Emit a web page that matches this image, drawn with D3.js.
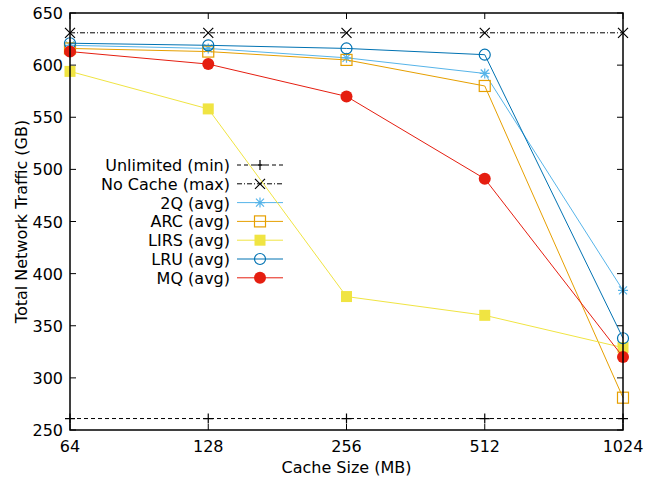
<!DOCTYPE html>
<html>
<head>
<meta charset="utf-8">
<script src="https://cdn.jsdelivr.net/npm/d3@7"></script>
<style>
  body { margin: 0; background: #fff; }
  svg { font-family: "DejaVu Sans", sans-serif; }
</style>
</head>
<body>
<div id="container"></div>
<script>
const { d3 } = window;

const cacheSizes = [64, 128, 256, 512, 1024];
const yTicks = [250, 300, 350, 400, 450, 500, 550, 600, 650];

const unlimited = [261, 261, 261, 261, 261];
const noCache = [631, 631, 631, 631, 631];
const q2 = [619, 616, 607, 592, 384];
const arc = [616, 613, 605, 580, 281];
const lirs = [594, 558, 378, 360, 329];
const lru = [621, 619, 616, 610, 338];
const mq = [613, 601, 570, 491, 320];

const SERIES = [
  { name: 'Unlimited (min)', values: unlimited, color: '#000', dash: '4,3', width: 1, marker: 'plus' },
  { name: 'No Cache (max)', values: noCache, color: '#000', dash: '5,2,1,2', width: 1, marker: 'cross' },
  { name: '2Q (avg)', values: q2, color: '#56b4e9', dash: null, width: 1, marker: 'star' },
  { name: 'ARC (avg)', values: arc, color: '#e69f00', dash: null, width: 1, marker: 'square' },
  { name: 'LIRS (avg)', values: lirs, color: '#f0e442', dash: null, width: 1, marker: 'squareFill' },
  { name: 'LRU (avg)', values: lru, color: '#0072b2', dash: null, width: 1, marker: 'circle' },
  { name: 'MQ (avg)', values: mq, color: '#e51e10', dash: null, width: 1, marker: 'circleFill' }
];

const W = 659;
const H = 478;
const plotL = 70;
const plotR = 623;
const plotT = 13;
const plotB = 430;
const FS = 16;

const x = d3.scaleLog().base(2).domain([64, 1024]).range([plotL, plotR]);
const y = d3.scaleLinear().domain([250, 650]).range([plotB, plotT]);

const svg = d3.select('#container')
  .append('svg')
  .attr('width', W)
  .attr('height', H);

// ticks (inward, mirrored like gnuplot)
const tickLen = 6;
const axes = svg.append('g').attr('stroke', '#000').attr('stroke-width', 1);

yTicks.forEach((v) => {
  axes.append('line').attr('x1', plotL).attr('x2', plotL + tickLen).attr('y1', y(v)).attr('y2', y(v));
  axes.append('line').attr('x1', plotR).attr('x2', plotR - tickLen).attr('y1', y(v)).attr('y2', y(v));
});
cacheSizes.forEach((v) => {
  axes.append('line').attr('x1', x(v)).attr('x2', x(v)).attr('y1', plotB).attr('y2', plotB - tickLen);
  axes.append('line').attr('x1', x(v)).attr('x2', x(v)).attr('y1', plotT).attr('y2', plotT + tickLen);
});

svg.append('g')
  .selectAll('text')
  .data(yTicks)
  .join('text')
  .attr('x', plotL - 7)
  .attr('y', (d) => y(d) + 6)
  .attr('text-anchor', 'end')
  .attr('font-size', FS)
  .text((d) => d);

svg.append('g')
  .selectAll('text')
  .data(cacheSizes)
  .join('text')
  .attr('x', (d) => x(d))
  .attr('y', plotB + 22)
  .attr('text-anchor', 'middle')
  .attr('font-size', FS)
  .text((d) => d);

svg.append('text')
  .attr('x', (plotL + plotR) / 2)
  .attr('y', 473)
  .attr('text-anchor', 'middle')
  .attr('font-size', FS)
  .text('Cache Size (MB)');

svg.append('text')
  .attr('transform', `translate(27, ${(plotT + plotB) / 2}) rotate(-90)`)
  .attr('text-anchor', 'middle')
  .attr('font-size', FS)
  .text('Total Network Traffic (GB)');

function drawMarker(g, type, cx, cy, color) {
  const s = 5;
  if (type === 'plus') {
    g.append('path').attr('d', `M${cx - s},${cy}H${cx + s}M${cx},${cy - s}V${cy + s}`)
      .attr('stroke', color).attr('stroke-width', 1.2).attr('fill', 'none');
  } else if (type === 'cross') {
    g.append('path').attr('d', `M${cx - s},${cy - s}L${cx + s},${cy + s}M${cx - s},${cy + s}L${cx + s},${cy - s}`)
      .attr('stroke', color).attr('stroke-width', 1.2).attr('fill', 'none');
  } else if (type === 'star') {
    g.append('path').attr('d', `M${cx - s},${cy}H${cx + s}M${cx},${cy - s}V${cy + s}M${cx - 4},${cy - 4}L${cx + 4},${cy + 4}M${cx - 4},${cy + 4}L${cx + 4},${cy - 4}`)
      .attr('stroke', color).attr('stroke-width', 1.2).attr('fill', 'none');
  } else if (type === 'square') {
    g.append('rect').attr('x', cx - 5.5).attr('y', cy - 5.5).attr('width', 11).attr('height', 11)
      .attr('stroke', color).attr('stroke-width', 1.2).attr('fill', 'none');
  } else if (type === 'squareFill') {
    g.append('rect').attr('x', cx - 5.5).attr('y', cy - 5.5).attr('width', 11).attr('height', 11)
      .attr('fill', color);
  } else if (type === 'circle') {
    g.append('circle').attr('cx', cx).attr('cy', cy).attr('r', 5.5)
      .attr('stroke', color).attr('stroke-width', 1.2).attr('fill', 'none');
  } else if (type === 'circleFill') {
    g.append('circle').attr('cx', cx).attr('cy', cy).attr('r', 6).attr('fill', color);
  }
}

const line = d3.line()
  .x((d, i) => x(cacheSizes[i]))
  .y((d) => y(d));

const plot = svg.append('g');
const legendX = 237;
const legendW = 46;

SERIES.forEach((s, k) => {
  const g = plot.append('g');
  g.append('path')
    .attr('d', line(s.values))
    .attr('fill', 'none')
    .attr('stroke', s.color)
    .attr('stroke-width', s.width)
    .attr('stroke-dasharray', s.dash);
  s.values.forEach((v, i) => drawMarker(g, s.marker, x(cacheSizes[i]), y(v), s.color));

  // legend entry
  const ly = 165 + k * 18.8;
  g.append('text')
    .attr('x', legendX - 7)
    .attr('y', ly + 6)
    .attr('text-anchor', 'end')
    .attr('font-size', FS)
    .attr('fill', '#000')
    .text(s.name);
  g.append('line')
    .attr('x1', legendX).attr('x2', legendX + legendW)
    .attr('y1', ly).attr('y2', ly)
    .attr('stroke', s.color)
    .attr('stroke-width', s.width)
    .attr('stroke-dasharray', s.dash);
  drawMarker(g, s.marker, legendX + legendW / 2, ly, s.color);
});

// border
svg.append('rect')
  .attr('x', plotL).attr('y', plotT)
  .attr('width', plotR - plotL).attr('height', plotB - plotT)
  .attr('fill', 'none').attr('stroke', '#000').attr('stroke-width', 1.5);
</script>
</body>
</html>
